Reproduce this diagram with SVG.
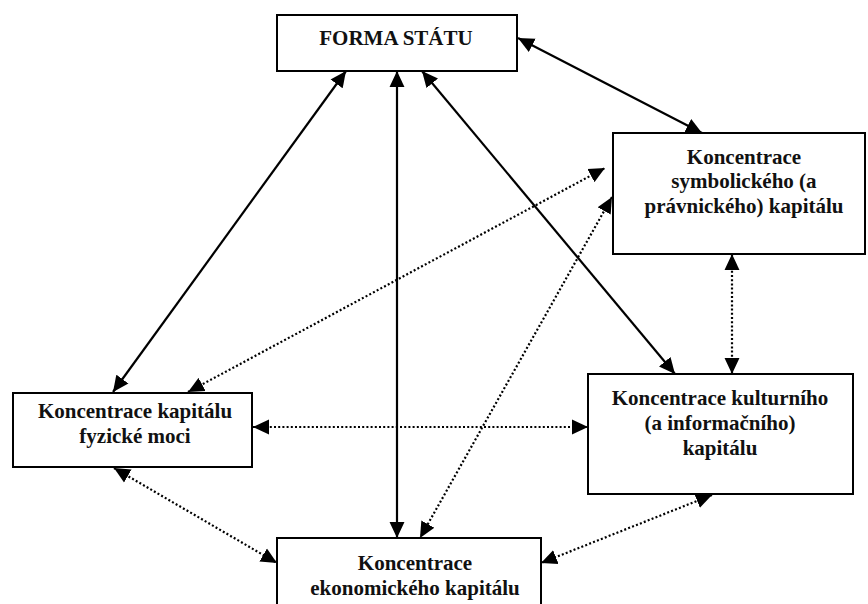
<svg xmlns="http://www.w3.org/2000/svg" width="868" height="604" viewBox="0 0 868 604">
<style>
.box{fill:#fff;stroke:#000;stroke-width:2}
.t{font-family:"Liberation Serif","Times New Roman",serif;font-weight:bold;font-size:21px;fill:#111;text-anchor:middle}
.s{fill:none;stroke:#000;stroke-width:2.2;marker-start:url(#ah);marker-end:url(#ah)}
.d{fill:none;stroke:#000;stroke-width:2.2;stroke-dasharray:2 2.2;marker-start:url(#ah);marker-end:url(#ah)}
</style>
<defs>
<marker id="ah" markerUnits="userSpaceOnUse" markerWidth="16" markerHeight="16" viewBox="0 0 15 14" refX="15" refY="7" orient="auto-start-reverse">
<path d="M0,0 L15,7 L0,14 z" fill="#000"/>
</marker>
</defs>
<rect width="868" height="604" fill="#fff"/>
<g id="connectors">
<line class="s" x1="346" y1="71" x2="113" y2="392"/>
<line class="s" x1="397" y1="71" x2="397" y2="538"/>
<line class="s" x1="422" y1="71" x2="675" y2="374"/>
<line class="s" x1="518" y1="38" x2="702" y2="133"/>
<line class="d" x1="188" y1="392" x2="605" y2="168"/>
<line class="d" x1="612" y1="197" x2="420" y2="538"/>
<line class="d" x1="253" y1="427" x2="588" y2="427"/>
<line class="d" x1="732" y1="254" x2="732" y2="374"/>
<line class="d" x1="114" y1="468" x2="277" y2="563"/>
<line class="d" x1="712" y1="495" x2="541" y2="563"/>
</g>
<g id="forma"><rect class="box" x="277" y="15" width="240" height="56"/><text class="t" x="396" y="45">FORMA STÁTU</text></g>
<g id="symbolic"><rect class="box" x="613" y="133" width="252" height="121"/><text class="t" x="744" y="164">Koncentrace</text><text class="t" x="744" y="188">symbolického (a</text><text class="t" x="744" y="213">právnického) kapitálu</text></g>
<g id="physical"><rect class="box" x="13" y="393" width="239" height="74"/><text class="t" x="135" y="418">Koncentrace kapitálu</text><text class="t" x="135" y="443">fyzické moci</text></g>
<g id="cultural"><rect class="box" x="588" y="374" width="265" height="120"/><text class="t" x="720" y="405">Koncentrace kulturního</text><text class="t" x="720" y="430">(a informačního)</text><text class="t" x="720" y="455">kapitálu</text></g>
<g id="economic"><rect class="box" x="277" y="538" width="264" height="80"/><text class="t" x="415" y="570">Koncentrace</text><text class="t" x="415" y="595">ekonomického kapitálu</text></g>
</svg>
